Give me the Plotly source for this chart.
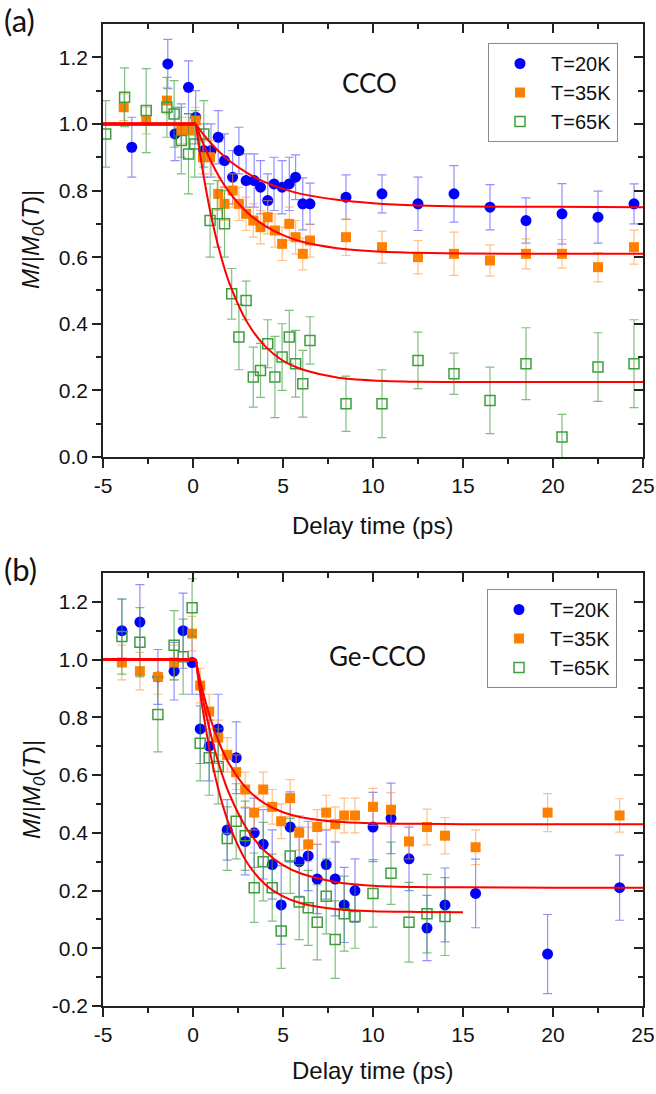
import plotly.graph_objects as go

W, H = 656, 1094
def fx(px): return px / W
def fy(py): return 1 - py / H

# ---------------- data: panel (a) CCO ----------------
a20_x = [-3.4, -1.4, -1.0, -0.65, -0.25, 0.15, 0.6, 1.0, 1.4, 1.75, 2.2, 2.55, 2.95, 3.4, 3.75, 4.15, 4.5, 4.95, 5.35, 5.7, 6.1, 6.5, 8.5, 10.5, 12.5, 14.5, 16.5, 18.5, 20.5, 22.5, 24.5]
a20_y = [0.93, 1.18, 0.97, 0.98, 1.11, 1.02, 0.92, 0.92, 0.96, 0.89, 0.84, 0.92, 0.83, 0.83, 0.81, 0.77, 0.82, 0.81, 0.82, 0.84, 0.76, 0.76, 0.78, 0.79, 0.76, 0.79, 0.75, 0.71, 0.73, 0.72, 0.76]
a20_e = [0.09, 0.074, 0.08, 0.08, 0.079, 0.08, 0.08, 0.08, 0.08, 0.08, 0.08, 0.07, 0.08, 0.08, 0.08, 0.08, 0.08, 0.08, 0.08, 0.067, 0.078, 0.062, 0.067, 0.057, 0.08, 0.085, 0.068, 0.068, 0.091, 0.078, 0.06]

a35_x = [-3.85, -2.6, -1.45, -0.65, -0.2, 0.15, 0.55, 0.95, 1.4, 1.75, 2.2, 2.55, 2.95, 3.35, 3.75, 4.15, 4.55, 4.95, 5.35, 5.7, 6.1, 6.5, 8.5, 10.5, 12.5, 14.5, 16.5, 18.5, 20.5, 22.5, 24.5]
a35_y = [1.05, 1.01, 1.07, 0.98, 0.98, 1.01, 0.90, 0.90, 0.79, 0.76, 0.80, 0.76, 0.73, 0.71, 0.69, 0.72, 0.68, 0.64, 0.70, 0.66, 0.61, 0.65, 0.66, 0.63, 0.60, 0.61, 0.59, 0.61, 0.61, 0.57, 0.63]
a35_e = [0.04, 0.04, 0.04, 0.04, 0.04, 0.04, 0.05, 0.05, 0.05, 0.05, 0.05, 0.05, 0.05, 0.05, 0.05, 0.05, 0.05, 0.05, 0.05, 0.05, 0.048, 0.05, 0.055, 0.048, 0.05, 0.065, 0.047, 0.045, 0.043, 0.044, 0.051]

a65_x = [-4.85, -3.8, -2.6, -1.45, -1.05, -0.65, -0.25, 0.1, 0.6, 0.95, 1.35, 1.75, 2.15, 2.55, 2.95, 3.35, 3.75, 4.15, 4.55, 4.95, 5.35, 5.7, 6.1, 6.5, 8.5, 10.5, 12.5, 14.5, 16.5, 18.5, 20.5, 22.5, 24.5]
a65_y = [0.97, 1.08, 1.04, 1.05, 1.03, 0.95, 0.91, 0.94, 0.97, 0.71, 0.73, 0.70, 0.49, 0.36, 0.47, 0.24, 0.26, 0.34, 0.24, 0.30, 0.36, 0.28, 0.22, 0.35, 0.16, 0.16, 0.29, 0.25, 0.17, 0.28, 0.06, 0.27, 0.28]
a65_e = [0.1, 0.088, 0.126, 0.09, 0.1, 0.1, 0.12, 0.1, 0.1, 0.11, 0.1, 0.1, 0.076, 0.098, 0.058, 0.09, 0.081, 0.072, 0.122, 0.1, 0.08, 0.1, 0.1, 0.071, 0.083, 0.102, 0.085, 0.062, 0.1, 0.108, 0.068, 0.103, 0.132]

fit_a_x = [-5, 0.15, 0.5, 1, 1.5, 2, 3, 4, 5, 6, 8, 10, 12.5, 15, 20, 25]
fit_a20 = [1.0, 1.0, 0.974, 0.942, 0.914, 0.890, 0.853, 0.825, 0.805, 0.790, 0.772, 0.762, 0.755, 0.752, 0.751, 0.750]
fit_a35 = [1.0, 1.0, 0.949, 0.888, 0.837, 0.796, 0.735, 0.694, 0.666, 0.647, 0.627, 0.618, 0.613, 0.611, 0.610, 0.610]
fit_a65 = [1.0, 1.0, 0.873, 0.726, 0.613, 0.525, 0.405, 0.333, 0.289, 0.264, 0.239, 0.230, 0.226, 0.225, 0.225, 0.225]

# ---------------- data: panel (b) Ge-CCO ----------------
b20_x = [-3.95, -2.95, -1.95, -1.05, -0.55, -0.05, 0.4, 0.9, 1.4, 1.9, 2.4, 2.9, 3.4, 3.9, 4.4, 4.9, 5.4, 5.9, 6.4, 6.9, 7.4, 7.9, 8.4, 9.0, 10.0, 11.0, 12.0, 13.0, 14.0, 15.7, 19.7, 23.7]
b20_y = [1.10, 1.13, 0.94, 0.96, 1.10, 0.99, 0.76, 0.70, 0.76, 0.41, 0.66, 0.37, 0.40, 0.36, 0.29, 0.15, 0.42, 0.30, 0.32, 0.24, 0.29, 0.24, 0.15, 0.20, 0.42, 0.45, 0.31, 0.07, 0.15, 0.19, -0.02, 0.21]
b20_e = [0.11, 0.13, 0.095, 0.1, 0.13, 0.11, 0.12, 0.12, 0.12, 0.105, 0.124, 0.116, 0.12, 0.12, 0.12, 0.136, 0.122, 0.12, 0.12, 0.12, 0.12, 0.128, 0.13, 0.11, 0.12, 0.122, 0.11, 0.113, 0.128, 0.119, 0.137, 0.113]

b35_x = [-3.95, -2.95, -1.95, -1.05, -0.05, 0.4, 0.9, 1.4, 1.9, 2.4, 2.9, 3.4, 3.9, 4.4, 4.9, 5.4, 5.9, 6.4, 6.9, 7.4, 7.9, 8.4, 9.0, 10.0, 11.0, 12.0, 13.0, 14.0, 15.7, 19.7, 23.7]
b35_y = [0.99, 0.96, 0.94, 0.99, 1.09, 0.91, 0.82, 0.73, 0.67, 0.61, 0.55, 0.47, 0.55, 0.49, 0.44, 0.52, 0.40, 0.36, 0.42, 0.47, 0.43, 0.46, 0.46, 0.49, 0.48, 0.37, 0.42, 0.39, 0.35, 0.47, 0.46]
b35_e = [0.06, 0.065, 0.06, 0.06, 0.06, 0.06, 0.06, 0.06, 0.06, 0.06, 0.06, 0.06, 0.06, 0.06, 0.06, 0.064, 0.06, 0.06, 0.06, 0.06, 0.06, 0.06, 0.06, 0.064, 0.059, 0.06, 0.062, 0.063, 0.06, 0.066, 0.058]

b65_x = [-3.95, -2.95, -1.95, -1.05, -0.55, -0.05, 0.4, 0.9, 1.4, 1.9, 2.4, 2.9, 3.4, 3.9, 4.4, 4.9, 5.4, 5.9, 6.4, 6.9, 7.4, 7.9, 8.4, 9.0, 10.0, 11.0, 12.0, 13.0, 14.0]
b65_y = [1.08, 1.06, 0.81, 1.05, 1.01, 1.18, 0.71, 0.66, 0.63, 0.38, 0.44, 0.39, 0.21, 0.30, 0.21, 0.06, 0.32, 0.16, 0.14, 0.09, 0.18, 0.03, 0.12, 0.11, 0.19, 0.26, 0.09, 0.12, 0.11]
b65_e = [0.13, 0.12, 0.13, 0.12, 0.13, 0.1, 0.13, 0.13, 0.13, 0.11, 0.13, 0.12, 0.12, 0.136, 0.116, 0.13, 0.13, 0.13, 0.13, 0.13, 0.13, 0.134, 0.13, 0.11, 0.117, 0.108, 0.138, 0.136, 0.135]

fit_b_x = [-5, 0.15, 0.5, 1, 1.5, 2, 3, 4, 5, 6, 8, 10, 12.5, 15, 20, 25]
fit_b20 = [1.0, 1.0, 0.878, 0.737, 0.625, 0.537, 0.413, 0.336, 0.288, 0.259, 0.229, 0.217, 0.212, 0.211, 0.210, 0.210]
fit_b35 = [1.0, 1.0, 0.902, 0.790, 0.705, 0.640, 0.552, 0.501, 0.471, 0.454, 0.438, 0.433, 0.431, 0.430, 0.430, 0.430]
fit_b65_x = [-5, 0.15, 0.5, 1, 1.5, 2, 3, 4, 5, 6, 8, 10, 12.5, 15]
fit_b65 = [1.0, 1.0, 0.842, 0.663, 0.529, 0.429, 0.297, 0.222, 0.180, 0.156, 0.135, 0.128, 0.126, 0.125]

labels = ["T=20K", "T=35K", "T=65K"]
x_tick_vals = [-5, 0, 5, 10, 15, 20, 25]
x_tick_text = ["-5", "0", "5", "10", "15", "20", "25"]
x_minor_vals = [-2.5, 2.5, 7.5, 12.5, 17.5, 22.5]
ya_tick_vals = [0.0, 0.2, 0.4, 0.6, 0.8, 1.0, 1.2]
ya_tick_text = ["0.0", "0.2", "0.4", "0.6", "0.8", "1.0", "1.2"]
ya_minor_vals = [0.1, 0.3, 0.5, 0.7, 0.9, 1.1]
yb_tick_vals = [-0.2, 0.0, 0.2, 0.4, 0.6, 0.8, 1.0, 1.2]
yb_tick_text = ["-0.2", "0.0", "0.2", "0.4", "0.6", "0.8", "1.0", "1.2"]
yb_minor_vals = [-0.1, 0.1, 0.3, 0.5, 0.7, 0.9, 1.1]

# ---------------- styles ----------------
FONT = "Arial, Liberation Sans, sans-serif"
LBL_FONT = "Lato, Open Sans, sans-serif"
AX = "#222222"
styles = [
    dict(symbol="circle", color="#0000FF", size=11, line=dict(width=0, color="#0000FF"), err="rgba(70,70,255,0.6)"),
    dict(symbol="square", color="#FF8000", size=10, line=dict(width=0, color="#FF8000"), err="rgba(255,150,60,0.6)"),
    dict(symbol="square-open", color="#3E9E3E", size=10, line=dict(width=1.5, color="#3E9E3E"), err="rgba(60,155,60,0.65)"),
]

fig = go.Figure()

def add_series(xs, ys, es, st, name, xa, ya, legend):
    fig.add_trace(go.Scatter(
        x=xs, y=ys, mode="markers", name=name, xaxis=xa, yaxis=ya, legend=legend,
        marker=dict(symbol=st["symbol"], color=st["color"], size=st["size"], line=st["line"]),
        error_y=dict(type="data", array=es, visible=True, color=st["err"], thickness=1.2, width=4.5),
    ))

def add_fit(xs, ys, xa, ya):
    fig.add_trace(go.Scatter(x=xs[:2], y=ys[:2], mode="lines", xaxis=xa, yaxis=ya, showlegend=False,
                             line=dict(color="#FF0000", width=3), hoverinfo="skip"))
    fig.add_trace(go.Scatter(x=xs[1:], y=ys[1:], mode="lines", xaxis=xa, yaxis=ya, showlegend=False,
                             line=dict(color="#FF0000", width=2, shape="spline", smoothing=0.8), hoverinfo="skip"))

# panel (a)
for xs, ys, es, st, nm in zip([a20_x, a35_x, a65_x], [a20_y, a35_y, a65_y], [a20_e, a35_e, a65_e], styles, labels):
    add_series(xs, ys, es, st, nm, "x", "y", "legend")
for ys in [fit_a20, fit_a35, fit_a65]:
    add_fit(fit_a_x, ys, "x", "y")

# panel (b)
for xs, ys, es, st, nm in zip([b20_x, b35_x, b65_x], [b20_y, b35_y, b65_y], [b20_e, b35_e, b65_e], styles, labels):
    add_series(xs, ys, es, st, nm, "x2", "y2", "legend2")
add_fit(fit_b_x, fit_b20, "x2", "y2")
add_fit(fit_b_x, fit_b35, "x2", "y2")
add_fit(fit_b65_x, fit_b65, "x2", "y2")

# dummy traces so the mirrored (inside-tick) axes are drawn
fig.add_trace(go.Scatter(x=[None], y=[None], xaxis="x3", yaxis="y3", showlegend=False, hoverinfo="skip"))
fig.add_trace(go.Scatter(x=[None], y=[None], xaxis="x4", yaxis="y4", showlegend=False, hoverinfo="skip"))

xdom = [fx(103), fx(643)]
ydom_a = [fy(457), fy(24)]
ydom_b = [fy(1006), fy(573)]

def main_x(anchor, dom):
    return dict(domain=dom, anchor=anchor, range=[-5, 25], tickmode="array", tickvals=x_tick_vals,
                ticktext=x_tick_text, ticks="outside", ticklen=9, tickwidth=1.5, tickcolor=AX,
                showline=True, linecolor=AX, linewidth=1.6, mirror=True, showgrid=False, zeroline=False,
                automargin=False, tickfont=dict(family=FONT, size=21, color="#111"),
                minor=dict(tickmode="array", tickvals=x_minor_vals, ticks="outside", ticklen=5, tickwidth=1.5, tickcolor=AX))

def main_y(anchor, dom, rng, tv, tt, mv):
    return dict(domain=dom, anchor=anchor, range=rng, tickmode="array", tickvals=tv, ticktext=tt,
                ticks="outside", ticklen=9, tickwidth=1.5, tickcolor=AX,
                showline=True, linecolor=AX, linewidth=1.6, mirror=True, showgrid=False, zeroline=False,
                automargin=False, tickfont=dict(family=FONT, size=21, color="#111"),
                minor=dict(tickmode="array", tickvals=mv, ticks="outside", ticklen=5, tickwidth=1.5, tickcolor=AX))

def mirror_x(over, anchor):
    return dict(overlaying=over, anchor=anchor, side="top", range=[-5, 25], tickmode="array",
                tickvals=x_tick_vals, ticks="inside", ticklen=9, tickwidth=1.5, tickcolor=AX,
                showticklabels=False, showgrid=False, zeroline=False, showline=False, automargin=False,
                minor=dict(tickmode="array", tickvals=x_minor_vals, ticks="inside", ticklen=5, tickwidth=1.5, tickcolor=AX))

def mirror_y(over, anchor, rng, tv, mv):
    return dict(overlaying=over, anchor=anchor, side="right", range=rng, tickmode="array",
                tickvals=tv, ticks="inside", ticklen=9, tickwidth=1.5, tickcolor=AX,
                showticklabels=False, showgrid=False, zeroline=False, showline=False, automargin=False,
                minor=dict(tickmode="array", tickvals=mv, ticks="inside", ticklen=5, tickwidth=1.5, tickcolor=AX))

def legend_at(px, py):
    return dict(x=fx(px), y=fy(py), xanchor="left", yanchor="top", bgcolor="white",
                bordercolor="#8a8a8a", borderwidth=1, font=dict(family=FONT, size=20, color="#111"),
                tracegroupgap=0, itemwidth=52)

annotations = [
    dict(text="(a)", x=fx(2), y=fy(20), xanchor="left", yanchor="middle", font=dict(family=LBL_FONT, size=31, color="#111")),
    dict(text="(b)", x=fx(2), y=fy(569), xanchor="left", yanchor="middle", font=dict(family=LBL_FONT, size=31, color="#111")),
    dict(text="CCO", x=fx(370), y=fy(83), xanchor="center", yanchor="middle", font=dict(family=LBL_FONT, size=26, color="#111")),
    dict(text="Ge-CCO", x=fx(377), y=fy(656), xanchor="center", yanchor="middle", font=dict(family=LBL_FONT, size=26, color="#111")),
    dict(text="Delay time (ps)", x=fx(372.5), y=fy(526), xanchor="center", yanchor="middle", font=dict(family=FONT, size=24, color="#111")),
    dict(text="Delay time (ps)", x=fx(372.5), y=fy(1070), xanchor="center", yanchor="middle", font=dict(family=FONT, size=24, color="#111")),
    dict(text="<i>M</i>/|<i>M<sub>0</sub></i>(<i>T</i>)|", x=fx(33), y=fy(240), textangle=-90, xanchor="center", yanchor="middle", font=dict(family=FONT, size=24, color="#111")),
    dict(text="<i>M</i>/|<i>M<sub>0</sub></i>(<i>T</i>)|", x=fx(33), y=fy(790), textangle=-90, xanchor="center", yanchor="middle", font=dict(family=FONT, size=24, color="#111")),
]
for a in annotations:
    a.update(xref="paper", yref="paper", showarrow=False)

fig.update_layout(
    width=W, height=H, margin=dict(l=0, r=0, t=0, b=0, autoexpand=False),
    paper_bgcolor="white", plot_bgcolor="white",
    xaxis=main_x("y", xdom),
    yaxis=main_y("x", ydom_a, [0, 1.3], ya_tick_vals, ya_tick_text, ya_minor_vals),
    xaxis2=main_x("y2", xdom),
    yaxis2=main_y("x2", ydom_b, [-0.2, 1.3], yb_tick_vals, yb_tick_text, yb_minor_vals),
    xaxis3=mirror_x("x", "y"),
    yaxis3=mirror_y("y", "x", [0, 1.3], ya_tick_vals, ya_minor_vals),
    xaxis4=mirror_x("x2", "y2"),
    yaxis4=mirror_y("y2", "x2", [-0.2, 1.3], yb_tick_vals, yb_minor_vals),
    legend=legend_at(488, 43),
    legend2=legend_at(487, 589),
    annotations=annotations,
    showlegend=True,
)

fig.write_html("out.html")
